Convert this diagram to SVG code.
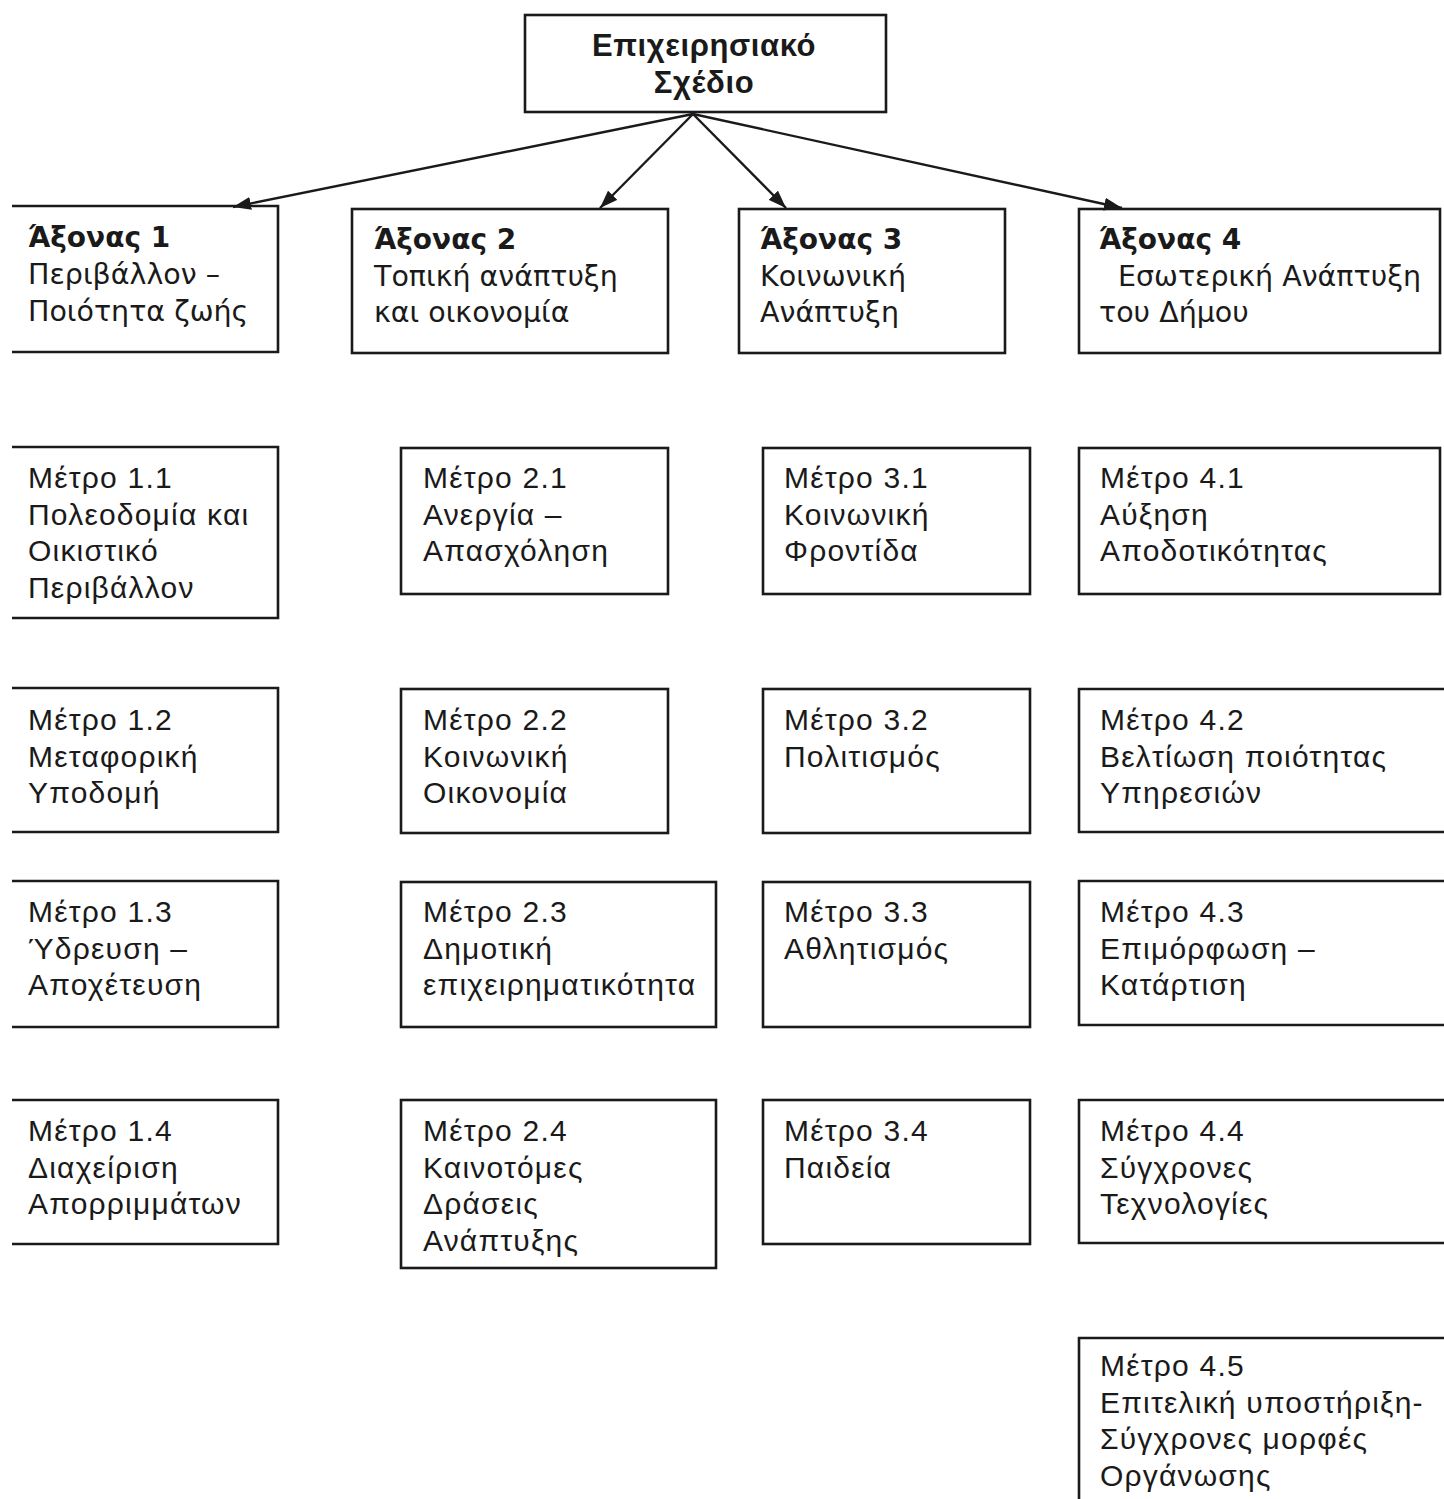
<svg xmlns="http://www.w3.org/2000/svg" width="1444" height="1499" viewBox="0 0 1444 1499">
<defs>
<style>
.bx{fill:none;stroke:#1a1a1a;stroke-width:2.6}
.cn{fill:none;stroke:#1a1a1a;stroke-width:2.4}
.m{font-family:"Liberation Sans",Arial,sans-serif;font-size:30px;letter-spacing:1.2px;fill:#1a1a1a}
.a{font-family:"DejaVu Sans",Verdana,sans-serif;font-size:28.5px;fill:#1a1a1a}
.ab{font-family:"DejaVu Sans",Verdana,sans-serif;font-size:28px;font-weight:bold;fill:#1a1a1a}
.t{font-family:"Liberation Sans",Arial,sans-serif;font-size:31px;letter-spacing:0.6px;font-weight:bold;fill:#1a1a1a;text-anchor:middle}
</style>
<marker id="ah" viewBox="0 0 10 10" refX="10" refY="5" markerWidth="18" markerHeight="13" markerUnits="userSpaceOnUse" orient="auto" preserveAspectRatio="none">
<path d="M0,0 L10,5 L0,10 z" fill="#1a1a1a"/>
</marker>
</defs>
<rect width="1444" height="1499" fill="#ffffff"/>

<g id="connectors">
<line class="cn" x1="693" y1="114" x2="233" y2="207" marker-end="url(#ah)"/>
<line class="cn" x1="693" y1="114" x2="600" y2="208" marker-end="url(#ah)"/>
<line class="cn" x1="693" y1="114" x2="786" y2="208" marker-end="url(#ah)"/>
<line class="cn" x1="693" y1="114" x2="1122" y2="208" marker-end="url(#ah)"/>
</g>

<g id="top">
<rect class="bx" x="525" y="15" width="361" height="97"/>
<text class="t" x="704" y="56">Επιχειρησιακό</text>
<text class="t" x="704" y="93">Σχέδιο</text>
</g>

<g id="axis1">
<path class="bx" d="M12,206 H278 V352 H12"/>
<text class="ab" x="28" y="247">Άξονας 1</text>
<text class="a" x="28" y="284">Περιβάλλον –</text>
<text class="a" x="28" y="321">Ποιότητα ζωής</text>
</g>
<g id="axis2">
<rect class="bx" x="352" y="209" width="316" height="144"/>
<text class="ab" x="374" y="249">Άξονας 2</text>
<text class="a" x="374" y="286">Τοπική ανάπτυξη</text>
<text class="a" x="374" y="322">και οικονομία</text>
</g>
<g id="axis3">
<rect class="bx" x="739" y="209" width="266" height="144"/>
<text class="ab" x="760" y="249">Άξονας 3</text>
<text class="a" x="760" y="286">Κοινωνική</text>
<text class="a" x="760" y="322">Ανάπτυξη</text>
</g>
<g id="axis4">
<rect class="bx" x="1079" y="209" width="361" height="144"/>
<text class="ab" x="1099" y="249">Άξονας 4</text>
<text class="a" x="1118" y="286">Εσωτερική Ανάπτυξη</text>
<text class="a" x="1099" y="322">του Δήμου</text>
</g>

<!-- Column 1 -->
<g id="m11">
<path class="bx" d="M12,447 H278 V618 H12"/>
<text class="m" x="28" y="488">Μέτρο 1.1</text>
<text class="m" x="28" y="525">Πολεοδομία και</text>
<text class="m" x="28" y="561">Οικιστικό</text>
<text class="m" x="28" y="598">Περιβάλλον</text>
</g>
<g id="m12">
<path class="bx" d="M12,688 H278 V832 H12"/>
<text class="m" x="28" y="730">Μέτρο 1.2</text>
<text class="m" x="28" y="767">Μεταφορική</text>
<text class="m" x="28" y="803">Υποδομή</text>
</g>
<g id="m13">
<path class="bx" d="M12,881 H278 V1027 H12"/>
<text class="m" x="28" y="922">Μέτρο 1.3</text>
<text class="m" x="28" y="959">Ύδρευση –</text>
<text class="m" x="28" y="995">Αποχέτευση</text>
</g>
<g id="m14">
<path class="bx" d="M12,1100 H278 V1244 H12"/>
<text class="m" x="28" y="1141">Μέτρο 1.4</text>
<text class="m" x="28" y="1178">Διαχείριση</text>
<text class="m" x="28" y="1214">Απορριμμάτων</text>
</g>

<!-- Column 2 -->
<g id="m21">
<rect class="bx" x="401" y="448" width="267" height="146"/>
<text class="m" x="423" y="488">Μέτρο 2.1</text>
<text class="m" x="423" y="525">Ανεργία –</text>
<text class="m" x="423" y="561">Απασχόληση</text>
</g>
<g id="m22">
<rect class="bx" x="401" y="689" width="267" height="144"/>
<text class="m" x="423" y="730">Μέτρο 2.2</text>
<text class="m" x="423" y="767">Κοινωνική</text>
<text class="m" x="423" y="803">Οικονομία</text>
</g>
<g id="m23">
<rect class="bx" x="401" y="882" width="315" height="145"/>
<text class="m" x="423" y="922">Μέτρο 2.3</text>
<text class="m" x="423" y="959">Δημοτική</text>
<text class="m" x="423" y="995">επιχειρηματικότητα</text>
</g>
<g id="m24">
<rect class="bx" x="401" y="1100" width="315" height="168"/>
<text class="m" x="423" y="1141">Μέτρο 2.4</text>
<text class="m" x="423" y="1178">Καινοτόμες</text>
<text class="m" x="423" y="1214">Δράσεις</text>
<text class="m" x="423" y="1251">Ανάπτυξης</text>
</g>

<!-- Column 3 -->
<g id="m31">
<rect class="bx" x="763" y="448" width="267" height="146"/>
<text class="m" x="784" y="488">Μέτρο 3.1</text>
<text class="m" x="784" y="525">Κοινωνική</text>
<text class="m" x="784" y="561">Φροντίδα</text>
</g>
<g id="m32">
<rect class="bx" x="763" y="689" width="267" height="144"/>
<text class="m" x="784" y="730">Μέτρο 3.2</text>
<text class="m" x="784" y="767">Πολιτισμός</text>
</g>
<g id="m33">
<rect class="bx" x="763" y="882" width="267" height="145"/>
<text class="m" x="784" y="922">Μέτρο 3.3</text>
<text class="m" x="784" y="959">Αθλητισμός</text>
</g>
<g id="m34">
<rect class="bx" x="763" y="1100" width="267" height="144"/>
<text class="m" x="784" y="1141">Μέτρο 3.4</text>
<text class="m" x="784" y="1178">Παιδεία</text>
</g>

<!-- Column 4 -->
<g id="m41">
<rect class="bx" x="1079" y="448" width="361" height="146"/>
<text class="m" x="1100" y="488">Μέτρο 4.1</text>
<text class="m" x="1100" y="525">Αύξηση</text>
<text class="m" x="1100" y="561">Αποδοτικότητας</text>
</g>
<g id="m42">
<path class="bx" d="M1446,689 H1079 V832 H1446"/>
<text class="m" x="1100" y="730">Μέτρο 4.2</text>
<text class="m" x="1100" y="767">Βελτίωση ποιότητας</text>
<text class="m" x="1100" y="803">Υπηρεσιών</text>
</g>
<g id="m43">
<path class="bx" d="M1446,881 H1079 V1025 H1446"/>
<text class="m" x="1100" y="922">Μέτρο 4.3</text>
<text class="m" x="1100" y="959">Επιμόρφωση –</text>
<text class="m" x="1100" y="995">Κατάρτιση</text>
</g>
<g id="m44">
<path class="bx" d="M1446,1100 H1079 V1243 H1446"/>
<text class="m" x="1100" y="1141">Μέτρο 4.4</text>
<text class="m" x="1100" y="1178">Σύγχρονες</text>
<text class="m" x="1100" y="1214">Τεχνολογίες</text>
</g>
<g id="m45">
<path class="bx" d="M1446,1338 H1079 V1502"/>
<text class="m" x="1100" y="1376">Μέτρο 4.5</text>
<text class="m" x="1100" y="1413">Επιτελική υποστήριξη-</text>
<text class="m" x="1100" y="1449">Σύγχρονες μορφές</text>
<text class="m" x="1100" y="1486">Οργάνωσης</text>
</g>
</svg>
